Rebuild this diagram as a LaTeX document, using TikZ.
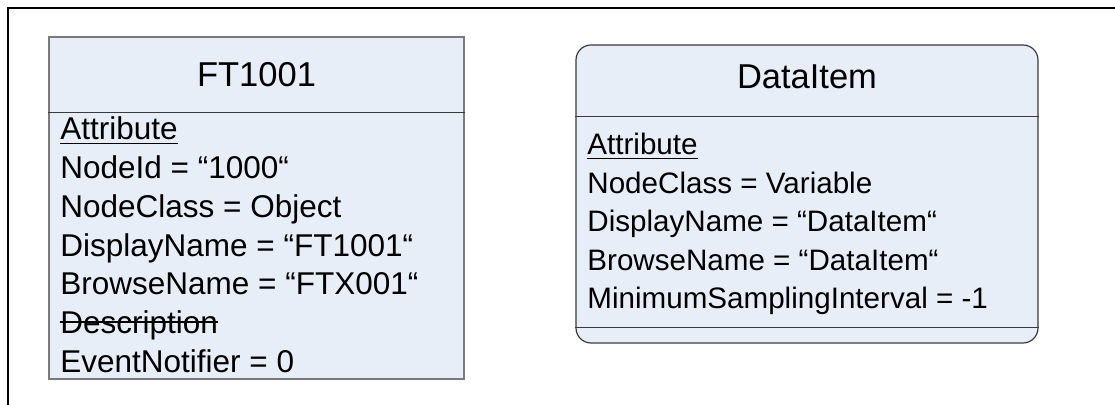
\documentclass[tikz,border=0pt]{standalone}
\usepackage{fontspec}
\setmainfont{Liberation Sans}
\usepackage{tikz}
\usetikzlibrary{positioning,calc}
\definecolor{boxfill}{HTML}{E8EEF8}
\definecolor{ftedge}{HTML}{7A7A7A}
\definecolor{diedge}{HTML}{3A3A3A}
\definecolor{text}{HTML}{000000}
\tikzset{
  frameline/.style={draw=text, line width=1pt},
  classbox/.style={fill=boxfill, line width=0.6pt, inner sep=0pt},
  sepline/.style={line width=0.5pt},
  textline/.style={draw=text, line width=0.55pt},
  titletext/.style={font=\fontsize{17.25}{20}\selectfont, text=text, inner sep=0pt, anchor=base},
  attrtext/.style={font=\fontsize{15.75}{19}\selectfont, text=text, inner sep=0pt, anchor=base west},
  smallattr/.style={attrtext, font=\fontsize{14.8}{18}\selectfont}
}
\begin{document}
\begin{tikzpicture}[x=0.5pt,y=0.5pt]
  \useasboundingbox (0,0) rectangle (1115,405);
  % outer frame (only top and left edges visible)
  \draw[frameline] (7.5,0) -- (7.5,396.5) -- (1115,396.5);

  % FT1001 object
  \node[classbox, draw=ftedge, line width=0.8pt, minimum width=207.5pt, minimum height=171pt] (ft) at (256.5,197) {};
  \coordinate (ftsep) at (0,292);
  \draw[sepline, draw=diedge] (ft.west |- ftsep) -- (ft.east |- ftsep);
  \node[titletext] (ft-title) at (256.5,318) {FT1001};
  \foreach \txt [count=\i] in {Attribute, {NodeId = “1000“}, {NodeClass = Object},
      {DisplayName = “FT1001“}, {BrowseName = “FTX001“}, Description, {EventNotifier = 0}}
    \node[attrtext] (ft-\i) at (60,{265-(\i-1)*38.7}) {\txt};
  \draw[textline] ($(ft-1.base west)+(0,-3.5)$) -- ($(ft-1.base east)+(0,-3.5)$);
  \draw[textline] ($(ft-6.base west)+(0,11.5)$) -- ($(ft-6.base east)+(0,11.5)$);

  % DataItem variable
  \node[classbox, draw=diedge, rounded corners=7.5pt, minimum width=231pt, minimum height=149pt] (di) at (807,211) {};
  \coordinate (disep) at (0,288);
  \coordinate (dibot) at (0,77);
  \draw[sepline, draw=diedge] (di.west |- disep) -- (di.east |- disep);
  \draw[sepline, draw=diedge] (di.west |- dibot) -- (di.east |- dibot);
  \node[titletext] (di-title) at (807,316) {DataItem};
  \foreach \txt [count=\i] in {Attribute, {NodeClass = Variable}, {DisplayName = “DataItem“},
      {BrowseName = “DataItem“}, {MinimumSamplingInterval = -1}}
    \node[smallattr] (di-\i) at (587,{250-(\i-1)*38.5}) {\txt};
  \draw[textline] ($(di-1.base west)+(0,-3.5)$) -- ($(di-1.base east)+(0,-3.5)$);
\end{tikzpicture}
\end{document}
